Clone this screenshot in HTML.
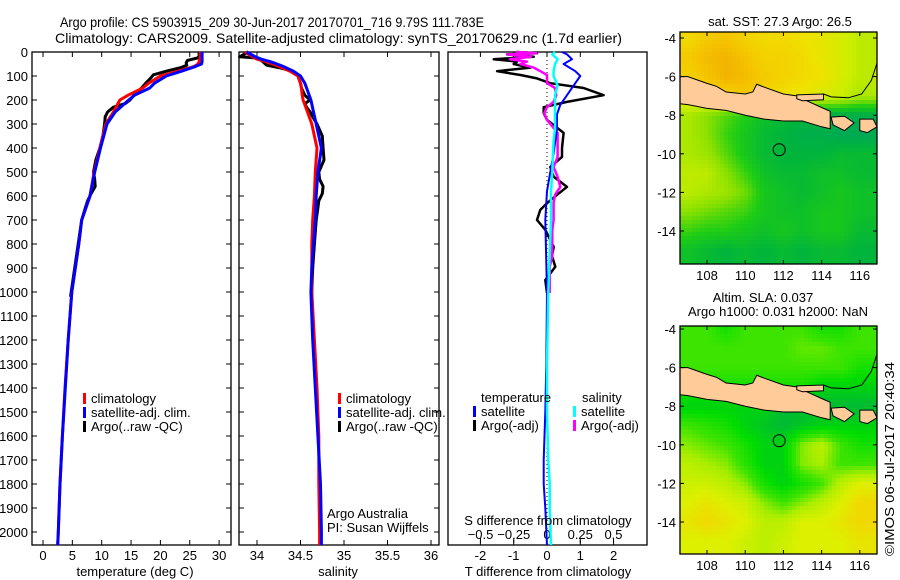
<!DOCTYPE html>
<html><head><meta charset="utf-8"><style>
html,body{margin:0;padding:0;background:#fff;}
svg{display:block;font-family:"Liberation Sans",Arial,sans-serif;}
text{font-size:13px;fill:#000;}
.ttl{font-size:14px;}
</style></head><body>
<svg id="fig" width="900" height="580" viewBox="0 0 900 580">
<text class="ttl" x="60" y="27" textLength="424" lengthAdjust="spacingAndGlyphs">Argo profile: CS 5903915_209 30-Jun-2017 20170701_716 9.79S 111.783E</text>
<text class="ttl" x="55" y="43" textLength="567" lengthAdjust="spacingAndGlyphs">Climatology: CARS2009. Satellite-adjusted climatology: synTS_20170629.nc (1.7d earlier)</text>
<g id="p1"></g>
<g id="p2"></g>
<g id="p3"></g>
<g id="m1"></g>
<g id="m2"></g>
<text transform="translate(894,556) rotate(-90)" textLength="194" lengthAdjust="spacingAndGlyphs">©IMOS 06-Jul-2017 20:40:34</text>
</svg>
<script>
// ---- profile data ----
const depthT=[0,20,30,40,50,60,80,100,130,150,180,200,250,300,400,500,600,700,800,900,1000,1200,1400,1600,1800,2000,2054];
const climT=[26.8,26.8,26.7,26.6,26.4,25.8,23,20,18,17,14.5,13.1,12,10.7,9.7,8.7,8.0,6.6,6.1,5.5,4.9,4.3,3.75,3.3,2.9,2.6,2.5];
const satT=[27.1,27.1,27.1,27.1,27.0,26,23.6,21,19,18.2,15.6,14.6,12.3,10.9,9.8,8.8,8.0,6.6,6.1,5.5,4.9,4.3,3.8,3.3,2.9,2.6,2.5];
const climS=[33.86,33.95,34.0,34.1,34.18,34.25,34.38,34.47,34.5,34.51,34.52,34.53,34.58,34.63,34.69,34.67,34.66,34.64,34.63,34.63,34.63,34.66,34.69,34.71,34.71,34.72,34.72];
const satS=[33.88,33.98,34.05,34.15,34.23,34.3,34.42,34.5,34.55,34.57,34.6,34.62,34.65,34.68,34.74,34.7,34.68,34.67,34.65,34.63,34.62,34.64,34.67,34.7,34.73,34.74,34.74];
const depthA=[0,20,25,35,45,55,65,80,95,110,130,150,180,200,215,230,250,270,300,350,400,450,500,530,560,590,620,650,700,800,900,1000,1020];
const argoT=[26.6,26.6,26.3,24.6,24.4,24.5,23.5,21,18.8,18.3,17.5,16.8,15.5,14.8,14.0,12,11,10.6,10.5,10.2,9.7,9.0,8.6,8.8,8.9,8.2,7.6,7.2,6.6,6.0,5.4,4.8,4.7];
const argoS=[33.9,33.8,34.0,34.05,34.08,34.11,34.25,34.41,34.47,34.48,34.5,34.51,34.55,34.61,34.55,34.57,34.61,34.64,34.69,34.75,34.76,34.77,34.71,34.72,34.76,34.75,34.71,34.7,34.68,34.66,34.64,34.63,34.63];
const depthD=[0,5,10,20,30,40,50,65,80,96,110,130,150,180,208,230,254,283,337,400,437,479,520,562,595,630,658,700,741,812,850,895,950,1004];
const argoDT=[-0.9,-0.3,-1.2,-0.4,-1.6,-0.9,-1.0,-0.5,-1.5,-0.8,-0.3,0.1,1.1,1.7,0.6,-0.1,-0.1,0,0.5,0.45,0.45,0.1,0.2,0.6,0.3,0.0,-0.2,-0.3,-0.05,0.2,0.15,0.25,-0.05,0];
const argoDS=[-0.23,-0.08,-0.3,-0.12,-0.28,-0.15,-0.2,-0.1,-0.05,0,0,0,0.06,0.07,0.05,0.0,-0.02,0.0,0.08,0.08,0.08,0.05,0.08,0.1,0.06,0.05,0.05,0.05,0.04,0.04,0.04,0.02,0.02,0.02];
const depthS=[0,10,30,50,80,100,140,180,220,260,320,370,420,500,580,700,1000,1300,1500,1700,1800,1900,2054];
const satDT=[0.45,0.6,0.75,0.5,0.85,1.0,0.8,0.6,0.4,0.3,0.3,0.25,0.2,0.1,0,-0.05,0,-0.02,-0.05,-0.1,-0.1,-0.05,0];
const satDS=[0.06,0.04,0.08,0.06,0.05,0.05,0.08,0.06,0.06,0.06,0.06,0.05,0.045,0.04,0.03,0.03,0.01,0.0,0.0,0.01,0.02,0.02,0.03];
const depthTicks=[0,100,200,300,400,500,600,700,800,900,1000,1100,1200,1300,1400,1500,1600,1700,1800,1900,2000];
const tTicks=[0,5,10,15,20,25,30];
const sTicks=[34,34.5,35,35.5,36];
const dTTicks=[-2,-1,0,1,2];
const dSTicks=[-0.5,-0.25,0,0.25,0.5];
// ---- map data ----
const sstLats=[-4,-5,-6,-7,-8,-9,-10,-11,-12,-13,-14,-15];
const sstLons=[107,108,109,110,111,112,113,114,115,116];
const sstGrid=[
[28.3,28.5,28.6,28.4,28.3,28.3,28.2,28.1,27.9,27.7],
[28.5,28.7,28.8,28.6,28.4,28.4,28.3,28.1,27.9,27.7],
[28.4,28.6,28.8,28.7,28.5,28.4,28.3,28.2,27.9,27.7],
[28.1,28.3,28.4,28.5,28.4,28.2,28.1,27.9,27.8,27.6],
[27.6,27.4,27.2,27.0,26.8,26.7,26.6,26.5,26.5,26.5],
[27.6,27.4,27.1,26.9,26.7,26.6,26.5,26.5,26.4,26.4],
[27.6,27.5,27.2,26.9,26.7,26.6,26.6,26.6,26.7,26.7],
[27.7,27.7,27.4,27.1,26.8,26.7,26.7,26.8,26.8,26.7],
[27.7,27.6,27.5,27.3,26.9,26.8,26.7,26.8,26.9,26.8],
[27.4,27.3,27.2,27.1,26.9,26.8,26.8,26.9,26.9,26.8],
[27.1,27.0,27.0,26.9,26.8,26.9,26.8,26.9,26.9,26.7],
[26.8,26.7,26.6,26.7,26.6,26.7,26.6,26.7,26.7,26.6]];
const slaGrid=[
[.05,.05,.04,.05,.05,.05,.05,.04,.04,.05],
[.05,.05,.05,.05,.05,.05,.055,.055,.05,.05],
[.05,.05,.05,.05,.05,.05,.05,.05,.05,.04],
[.04,.04,.04,.04,.04,.04,.04,.03,.03,.03],
[.03,.03,.03,.03,.03,.02,.02,.02,.02,.02],
[.05,.045,.04,.03,.025,.02,.025,.03,.03,.03],
[.06,.055,.05,.04,.03,.03,.06,.07,.05,.04],
[.07,.065,.06,.045,.03,.03,.06,.065,.05,.05],
[.075,.075,.07,.06,.04,.03,.04,.05,.07,.08],
[.08,.085,.08,.075,.06,.05,.06,.07,.08,.09],
[.085,.09,.085,.08,.07,.07,.08,.08,.085,.09],
[.08,.08,.08,.075,.07,.075,.08,.08,.08,.085]];
const argoLon=111.78, argoLat=-9.79;
const mapLatTicks=[-4,-6,-8,-10,-12,-14];
const mapLonTicks=[108,110,112,114,116];

const NS='http://www.w3.org/2000/svg';
function mk(parent,tag,attrs){const e=document.createElementNS(NS,tag);for(const k in attrs)e.setAttribute(k,attrs[k]);parent.appendChild(e);return e;}
function txt(parent,x,y,s,anchor){const e=mk(parent,'text',{x:x,y:y,'text-anchor':anchor||'start'});e.textContent=s;return e;}

const TOP=52,BOT=545;
const yD=d=>TOP+d*0.24;

function frame(g,x0,x1){
  const r=mk(g,'rect',{x:x0,y:TOP,width:x1-x0,height:BOT-TOP,fill:'none',stroke:'#000','stroke-width':1.3});
  
  
  depthTicks.forEach(d=>{
    const t1=mk(g,'line',{x1:x0,x2:x0+5,y1:yD(d),y2:yD(d),stroke:'#000'});
    
    
    const t2=mk(g,'line',{x1:x1-5,x2:x1,y1:yD(d),y2:yD(d),stroke:'#000'});
    
    
  });
}
function line(g,xs,ds,xf,color,w,name){
  const pts=xs.map((v,i)=>xf(v).toFixed(1)+','+yD(ds[i]).toFixed(1)).join(' ');
  const p=mk(g,'polyline',{points:pts,fill:'none',stroke:color,'stroke-width':w,'stroke-linejoin':'round'});
  
  
}
function legend(g,x,y,items){
  items.forEach((it,i)=>{
    const b=mk(g,'rect',{x:x,y:y+i*14-5,width:3,height:11,fill:it[1]});
    
    
    const t=txt(g,x+8,y+i*14+5,it[0]);
    
    
  });
}

const p1=document.getElementById('p1');
depthTicks.forEach(d=>{const t=txt(p1,28,yD(d)+5,String(d),'end');
  
  });

// ---- panel 1 temperature ----
const xT=v=>43+v*5.87;
frame(p1,32,231);
tTicks.forEach(v=>{
  const a=mk(p1,'line',{x1:xT(v),x2:xT(v),y1:BOT,y2:BOT-5,stroke:'#000'});
  
  
  const b=mk(p1,'line',{x1:xT(v),x2:xT(v),y1:TOP,y2:TOP+5,stroke:'#000'});
  
  
  const t=txt(p1,xT(v),560,String(v),'middle');
  
  
});
const tt=txt(p1,135,576,'temperature (deg C)','middle');


line(p1,argoT,depthA,xT,'#000',3,'argo-temperature-line');
line(p1,climT,depthT,xT,'#f00',3,'climatology-temperature-line');
line(p1,satT,depthT,xT,'#00f',3,'satellite-temperature-line');
legend(p1,83,398,[['climatology','#f00'],['satellite-adj. clim.','#00f'],['Argo(..raw -QC)','#000']]);

// ---- panel 2 salinity ----
const p2=document.getElementById('p2');
const xS=v=>257+(v-34)*87;
frame(p2,239,439);
sTicks.forEach(v=>{
  const a=mk(p2,'line',{x1:xS(v),x2:xS(v),y1:BOT,y2:BOT-5,stroke:'#000'});
  
  
  const b=mk(p2,'line',{x1:xS(v),x2:xS(v),y1:TOP,y2:TOP+5,stroke:'#000'});
  
  
  const t=txt(p2,xS(v),560,String(v),'middle');
  
  
});
const st=txt(p2,338,576,'salinity','middle');


line(p2,argoS,depthA,xS,'#000',3,'argo-salinity-line');
line(p2,climS,depthT,xS,'#f00',3,'climatology-salinity-line');
line(p2,satS,depthT,xS,'#00f',3,'satellite-salinity-line');
legend(p2,338,398,[['climatology','#f00'],['satellite-adj. clim.','#00f'],['Argo(..raw -QC)','#000']]);
const aa=txt(p2,327,518,'Argo Australia');
const pi=txt(p2,327,532,'PI: Susan Wijffels');

// ---- panel 3 differences ----
const p3=document.getElementById('p3');
const xDT=v=>547+v*33.3;
const xDS=v=>547+v*133;
const fr=mk(p3,'rect',{x:448,y:TOP,width:199,height:BOT-TOP,fill:'none',stroke:'#000','stroke-width':1.3});


dTTicks.forEach(v=>{
  const a=mk(p3,'line',{x1:xDT(v),x2:xDT(v),y1:BOT,y2:BOT-5,stroke:'#000'});
  
  
  const b=mk(p3,'line',{x1:xDT(v),x2:xDT(v),y1:TOP,y2:TOP+5,stroke:'#000'});
  
  
  const t=txt(p3,xDT(v),560,String(v),'middle');
  
  
});
dSTicks.forEach(v=>{
  const a=mk(p3,'line',{x1:xDS(v),x2:xDS(v),y1:538,y2:543,stroke:'#000'});
  
  
  const t=txt(p3,xDS(v),539,String(v).replace('-','\u2212'),'middle');
  
  
});
const zl=mk(p3,'line',{x1:547,x2:547,y1:TOP,y2:BOT,stroke:'#000','stroke-dasharray':'1,3'});


line(p3,argoDT,depthD,xDT,'#000',2.5,'argo-t-diff-line');
line(p3,argoDS,depthD,xDS,'#f0f',2.5,'argo-s-diff-line');
line(p3,satDT,depthS,xDT,'#00f',2,'satellite-t-diff-line');
line(p3,satDS,depthS,xDS,'#0ff',2.5,'satellite-s-diff-line');
const lt=txt(p3,481,402,'temperature');
const ls=txt(p3,582,402,'salinity');
legend(p3,473,411,[['satellite','#00f'],['Argo(-adj)','#000']]);
legend(p3,573,411,[['satellite','#0ff'],['Argo(-adj)','#f0f']]);
const sdt=txt(p3,548,525,'S difference from climatology','middle');
const tdt=txt(p3,548,576,'T difference from climatology','middle');

// ---- maps ----
const MX0=680,MX1=877;
const mx=lon=>707+(lon-108)*19.1;
function lerpColor(stops,v){
  if(v<=stops[0][0])return stops[0][1];
  for(let i=1;i<stops.length;i++){if(v<=stops[i][0]){const a=stops[i-1],b=stops[i],t=(v-a[0])/(b[0]-a[0]);
    const c=a[1].map((x,k)=>Math.round(x+(b[1][k]-x)*t));return c;}}
  return stops[stops.length-1][1];
}
const sstStops=[[26.2,[0,160,110]],[26.6,[0,180,60]],[27.0,[30,205,20]],[27.4,[140,225,0]],[27.8,[205,238,0]],[28.2,[240,225,0]],[28.6,[245,195,0]],[29.0,[238,165,0]]];
const slaStops=[[0.02,[0,187,51]],[0.035,[0,221,0]],[0.05,[60,228,0]],[0.065,[170,238,0]],[0.08,[221,240,0]],[0.09,[240,216,0]]];
function sample(grid,lon,lat){
  let fi=(-4-lat),fj=(lon-107);
  fi=Math.max(0,Math.min(sstLats.length-1.001,fi));fj=Math.max(0,Math.min(sstLons.length-1.001,fj));
  const i=Math.floor(fi),j=Math.floor(fj),u=fi-i,w=fj-j;
  return grid[i][j]*(1-u)*(1-w)+grid[i+1][j]*u*(1-w)+grid[i][j+1]*(1-u)*w+grid[i+1][j+1]*u*w;
}
const java=[[106.5,-6.0],[107,-6.0],[108,-6.35],[108.5,-6.5],[109,-6.8],[110,-6.9],[110.4,-6.8],[110.6,-6.4],[111,-6.55],[112,-6.9],[112.7,-7.0],[113,-7.15],[114,-7.6],[114.45,-7.8],[114.45,-8.7],[114,-8.6],[113,-8.3],[112,-8.3],[111,-8.2],[110,-8.0],[109,-7.75],[108,-7.65],[107,-7.45],[106.5,-7.4]];
const madura=[[112.7,-6.95],[114.1,-6.9],[114.1,-7.2],[113,-7.25],[112.7,-7.15]];
const bali=[[114.5,-8.1],[115.2,-8.05],[115.7,-8.4],[115.2,-8.8],[114.6,-8.5]];
const lombok=[[116.0,-8.2],[116.7,-8.2],[116.9,-8.6],[116.4,-8.9],[116.0,-8.8]];
const kalCoast=[[116.9,-5.3],[116.6,-6.2],[116.1,-6.9],[115.4,-7.1],[114.5,-7.05],[114.1,-6.9]];

function drawMap(gid,y0,y1,lat4y,grid,stops){
  const g=document.getElementById(gid);
  const my=lat=>lat4y+(-4-lat)*19.3;
  const cp=mk(g,'clipPath',{id:gid+'clip'});mk(cp,'rect',{x:MX0,y:y0,width:MX1-MX0,height:y1-y0});
  const cells=mk(g,'g',{'clip-path':'url(#'+gid+'clip)'});
  
  
  const step=4;
  for(let y=y0;y<y1;y+=step){for(let x=MX0;x<MX1;x+=step){
    const lon=108+(x+step/2-707)/19.1,lat=-4-(y+step/2-lat4y)/19.3;
    const c=lerpColor(stops,sample(grid,lon,lat));
    mk(cells,'rect',{x:x,y:y,width:step+0.3,height:step+0.3,fill:'rgb('+c.join(',')+')'});
  }}
  [java,madura,bali,lombok].forEach(poly=>{
    const p=mk(cells,'polygon',{points:poly.map(q=>mx(q[0]).toFixed(1)+','+my(q[1]).toFixed(1)).join(' '),fill:'#ffcc99',stroke:'#000','stroke-width':1});
    
    
  });
  const kc=mk(cells,'polyline',{points:kalCoast.map(q=>mx(q[0]).toFixed(1)+','+my(q[1]).toFixed(1)).join(' '),fill:'none',stroke:'#000','stroke-width':1});
  
  
  const c=mk(g,'circle',{cx:mx(argoLon),cy:my(argoLat),r:6,fill:'none',stroke:'#000','stroke-width':1});
  
  
  const fr=mk(g,'rect',{x:MX0,y:y0,width:MX1-MX0,height:y1-y0,fill:'none',stroke:'#000','stroke-width':1.3});
  
  
  mapLatTicks.forEach(l=>{
    const t=txt(g,676,my(l)+5,String(l),'end');
    
    
    mk(g,'line',{x1:MX0,x2:MX0+4,y1:my(l),y2:my(l),stroke:'#000'});
    mk(g,'line',{x1:MX1-4,x2:MX1,y1:my(l),y2:my(l),stroke:'#000'});
  });
  mapLonTicks.forEach(l=>{
    const t=txt(g,mx(l),y1+16,String(l),'middle');
    
    
    mk(g,'line',{x1:mx(l),x2:mx(l),y1:y0,y2:y0+4,stroke:'#000'});
    mk(g,'line',{x1:mx(l),x2:mx(l),y1:y1-4,y2:y1,stroke:'#000'});
  });
}
drawMap('m1',32,264,38,sstGrid,sstStops);
drawMap('m2',326,554,329,slaGrid,slaStops);
const m1=document.getElementById('m1'),m2=document.getElementById('m2');
const t1=txt(m1,780,26,'sat. SST: 27.3 Argo: 26.5','middle');
const t2=txt(m2,763,302,'Altim. SLA: 0.037','middle');
const t3=txt(m2,778,316,'Argo h1000: 0.031 h2000: NaN','middle');
</script>
</body></html>
